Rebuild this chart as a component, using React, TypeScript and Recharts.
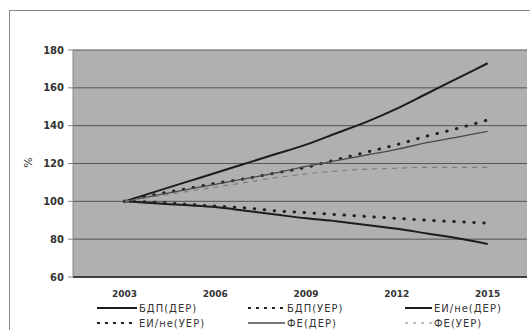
import React from "react";
import {
  LineChart,
  Line,
  XAxis,
  YAxis,
  CartesianGrid,
} from "recharts";

// yearly index values, 2003 = 100
const years = [2003, 2004, 2005, 2006, 2007, 2008, 2009, 2010, 2011, 2012, 2013, 2014, 2015];
const bdpDer = [100, 105, 110, 115, 120, 125, 130, 136, 142, 149, 157, 165, 173];
const bdpUer = [100, 103.5, 106.5, 109.5, 112, 115, 118, 122, 126, 130, 134.5, 138.5, 143];
const eiDer = [100, 99, 98, 97, 95, 93, 91, 89.5, 87.5, 85.5, 83, 80.5, 77.5];
const eiUer = [100, 99.5, 98.5, 97.5, 96.5, 95, 94, 93, 92, 91, 90, 89.2, 88.5];
const feDer = [100, 103, 106, 109, 112, 115, 118.5, 121.5, 124.5, 127.5, 131, 134, 137];
const feUer = [100, 102.5, 105, 107.5, 110, 112.5, 114.5, 116, 117, 117.5, 118, 118, 118];

const xTicks = [2003, 2006, 2009, 2012, 2015];
const yTicks = [60, 80, 100, 120, 140, 160, 180];

const data = years.map((year, i) => ({
  year,
  bdpDer: bdpDer[i],
  bdpUer: bdpUer[i],
  eiDer: eiDer[i],
  eiUer: eiUer[i],
  feDer: feDer[i],
  feUer: feUer[i],
}));

const series = [
  { key: "bdpDer", name: "БДП(ДЕР)", stroke: "#1c1c1c", width: 2, dash: undefined, dots: false },
  { key: "bdpUer", name: "БДП(УЕР)", stroke: "#222", width: 3, dash: "0.5 9.5", dots: true },
  { key: "eiDer", name: "ЕИ/не(ДЕР)", stroke: "#1c1c1c", width: 2, dash: undefined, dots: false },
  { key: "eiUer", name: "ЕИ/не(УЕР)", stroke: "#222", width: 3, dash: "0.5 9.5", dots: true },
  { key: "feDer", name: "ФЕ(ДЕР)", stroke: "#4a4a4a", width: 1.3, dash: undefined, dots: false },
  { key: "feUer", name: "ФЕ(УЕР)", stroke: "#7e7e7e", width: 1.2, dash: "5 5", dots: false },
];

// legend cells: [sample x, text x, y]
const legendPos = [
  [97, 139, 308],
  [248, 287, 308],
  [405, 434, 308],
  [97, 139, 323],
  [248, 287, 323],
  [405, 434, 323],
];

const font = "'DejaVu Sans', sans-serif";

export default function App() {
  return (
    <div
      style={{
        position: "absolute",
        left: 0,
        top: 0,
        width: 530,
        height: 330,
        overflow: "hidden",
        background: "#fff",
        fontFamily: font,
      }}
    >
      {/* chart frame */}
      <div
        style={{
          position: "absolute",
          left: 9,
          top: 10,
          width: 540,
          height: 340,
          border: "1.5px solid #8a8a8a",
          boxSizing: "border-box",
        }}
      />
      <div
        style={{
          position: "absolute",
          left: 23,
          top: 156,
          fontSize: 11,
          color: "#333",
          transform: "rotate(-90deg)",
        }}
      >
        %
      </div>
      <div style={{ position: "absolute", left: 0, top: 0 }}>
        <LineChart
          width={530}
          height={330}
          data={data}
          margin={{ top: 50, right: 3, bottom: 23, left: 0 }}
        >
          <CartesianGrid
            vertical={false}
            fill="#b0b0b0"
            stroke="#555"
            strokeWidth={1}
          />
          <XAxis
            dataKey="year"
            type="number"
            domain={[2001.3, 2016.3]}
            ticks={xTicks}
            height={30}
            tickSize={0}
            tickMargin={14}
            axisLine={{ stroke: "#222", strokeWidth: 1.5 }}
            tick={{ fontSize: 9, fill: "#333", fontFamily: font, fontWeight: "bold" }}
          />
          <YAxis
            domain={[60, 180]}
            ticks={yTicks}
            width={73}
            tickSize={5}
            tickMargin={4}
            axisLine={{ stroke: "#888" }}
            tickLine={{ stroke: "#888" }}
            tick={{ fontSize: 10, fill: "#333", fontFamily: font, fontWeight: "bold" }}
          />
          {series.map((s) => (
            <Line
              key={s.key}
              type="monotone"
              dataKey={s.key}
              name={s.name}
              stroke={s.stroke}
              strokeWidth={s.width}
              strokeDasharray={s.dash}
              strokeLinecap={s.dots ? "round" : "butt"}
              dot={false}
              isAnimationActive={false}
            />
          ))}
        </LineChart>
      </div>
      {/* legend */}
      <svg
        width={530}
        height={330}
        style={{ position: "absolute", left: 0, top: 0, pointerEvents: "none" }}
      >
        {series.map((s, i) => {
          const [sx, tx, y] = legendPos[i];
          return (
            <g key={s.key}>
              <line
                x1={sx}
                x2={tx - 2}
                y1={y}
                y2={y}
                stroke={s.stroke}
                strokeWidth={s.width > 2 ? 2 : s.width}
                strokeDasharray={s.dash ? "3 5" : undefined}
              />
              <text
                x={tx}
                y={y + 3.5}
                fontSize={10}
                fontFamily={font}
                fill="#333"
                letterSpacing={1}
              >
                {s.name}
              </text>
            </g>
          );
        })}
      </svg>
    </div>
  );
}
